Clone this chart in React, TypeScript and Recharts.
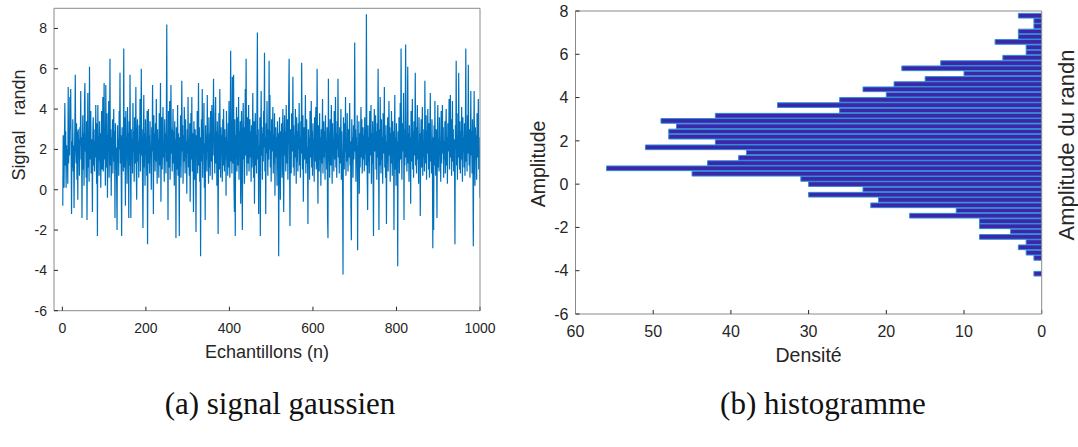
import React from 'react';
import { LineChart, Line, XAxis, YAxis, BarChart, Bar, Label } from 'recharts';

const FONT = '"Liberation Sans", Arial, Helvetica, sans-serif';
const SERIF = '"Liberation Serif", "Times New Roman", serif';
const AX = '#262626';
const BOX = '#8a8a8a';

// (a) signal gaussien : 1000 échantillons
const signal: number[] = [
  -0.8, 2.7, 1.9, 0.1, 2.6, 4.3, 1.2, 2.9, 0.1, 2.2, 1.4, 2.0, 0.3, 5.1, 1.3, 2.8, 1.7, 4.6, 3.0, 5.0,
  1.9, -1.2, 2.4, 1.1, 3.5, 0.9, 2.2, -0.9, 1.6, 3.2, 5.7, 2.0, 1.3, 3.3, 0.5, 2.9, -0.5, 3.0, 1.8, 2.5,
  0.7, 3.1, 2.2, 4.9, 1.5, 2.6, -1.4, 2.1, 3.7, 1.0, 2.8, 0.2, 4.4, 5.3, 1.9, 2.3, 0.6, 3.4, -1.5, 2.0,
  4.8, 1.1, 2.7, 0.4, 6.1, 2.2, 1.5, 3.9, 0.8, 2.5, 1.7, -1.1, 2.9, 3.6, 1.2, 2.4, 0.9, 3.0, 1.6, 4.2,
  2.1, 0.3, 3.3, -2.3, 4.2, 1.8, 2.6, 0.7, 3.4, 1.4, 2.8, 0.1, 2.0, 3.9, 1.0, 2.5, 4.6, 0.9, 2.2, 5.3,
  1.5, 3.1, 0.2, 5.2, 2.4, 1.1, 3.8, -0.4, 2.7, 1.9, 4.4, 0.6, 2.3, 6.5, 1.2, 3.0, -0.3, 2.6, 1.7, 3.5,
  0.8, 2.2, 4.0, 1.4, 2.9, -1.4, 3.3, 1.0, 2.1, 0.4, -2.0, 3.2, 1.6, 2.5, 0.7, 3.9, 2.0, 5.8, 1.3, 2.7,
  0.5, -2.3, 3.1, 1.8, 2.4, 0.9, 7.0, 1.1, 3.6, 2.2, -0.8, 3.9, 1.5, 2.6, 0.3, 4.1, 1.9, 2.8, -1.4, 3.4,
  1.2, 5.7, 2.0, -1.4, 3.0, 1.6, 2.5, 0.8, 4.3, 1.9, 2.9, 0.4, 3.6, 1.3, 2.2, 5.1, 1.0, -0.5, 2.7, 3.5,
  1.4, 2.4, 0.6, 3.2, 1.8, 4.5, 0.9, 2.6, 6.0, 1.7, 3.0, 0.5, -1.9, 2.3, 4.7, 1.1, 2.8, 0.2, 3.5, 1.9,
  2.5, 0.7, 3.9, -2.7, 2.1, 4.0, 1.3, 2.7, 0.8, 3.4, 1.6, 2.2, 0.0, 3.1, 1.9, 5.2, 2.4, -1.2, 3.7, 1.5,
  2.8, 0.9, 3.3, 1.4, 4.5, 2.0, 0.3, 3.0, 1.7, 2.5, 0.6, 3.8, 1.2, 2.9, 5.3, -0.6, 2.2, 3.6, 1.0, 2.6,
  4.1, 1.6, 2.3, 0.4, 3.5, 1.9, 2.8, 0.8, 3.2, 8.2, 1.4, 2.6, -1.5, 3.9, 2.1, 1.1, 4.4, 0.5, 2.7, 5.2,
  1.8, 3.0, 0.9, 2.4, 4.0, 1.3, 2.9, 0.2, 3.4, 1.7, 2.5, -2.4, 3.1, 1.0, 2.2, 4.2, 0.7, 2.8, 1.5, -2.3,
  2.6, 1.2, 3.7, 0.6, 2.3, 5.4, 1.9, 3.2, 0.3, 2.7, 1.4, 4.1, 2.0, 0.8, 3.5, 1.6, 2.4, -0.2, 3.0, 1.8,
  4.6, 1.1, 2.5, 0.7, 3.3, -0.6, 2.1, 3.8, 1.5, 4.6, 0.9, 2.8, 1.7, -1.1, 3.4, 2.2, 0.5, 3.0, 1.3, -2.1,
  2.7, 1.6, 3.9, 0.8, 2.4, 5.3, 1.2, 3.1, 0.4, 2.6, -3.3, 2.0, 3.5, 1.4, 5.0, 0.6, 2.9, 1.8, 4.3, 0.1,
  2.3, -1.5, 3.2, 1.5, 2.7, 0.9, 4.7, 1.9, 2.4, 0.3, 3.6, 1.1, 2.8, 0.7, 3.9, 2.1, 1.4, 4.2, 0.5, 2.6,
  3.3, 5.5, 1.7, 2.5, 0.8, 3.7, 4.6, 1.3, 2.9, 0.2, 3.4, 1.6, -2.2, 2.2, 3.8, 1.0, 5.0, 2.4, 0.6, 3.1,
  1.8, 2.7, 0.4, 3.5, 1.2, 4.0, 2.3, 0.9, 3.0, 1.5, 2.6, -0.3, 3.9, 1.9, 2.4, 0.7, 3.3, 1.1, 4.4, 2.0,
  0.6, 2.8, 6.9, 1.4, 3.2, 0.8, 5.6, 2.1, 1.3, 5.7, 0.2, -1.1, 3.5, -2.3, 2.7, 1.6, 4.1, 0.9, 2.4, 3.6,
  1.2, 4.6, 0.5, 2.9, 1.8, 3.4, -0.7, 2.2, 3.9, 1.0, -2.0, 2.6, 4.3, 1.5, 3.1, 0.3, 2.5, 5.0, 1.7, 6.5,
  2.0, 0.7, 3.6, 1.3, 2.8, 4.2, 0.9, 2.3, 3.5, 1.6, 2.9, 0.4, 3.2, 1.1, 2.6, 4.8, 1.9, 0.6, 3.4, -0.7,
  2.4, 3.8, 1.2, 2.7, 0.8, 4.5, 7.8, 1.5, 3.0, -1.2, 2.2, 1.0, 3.6, -2.3, 2.5, 4.9, 1.7, 3.1, 0.5, 2.8,
  1.4, 3.9, 2.1, 6.8, 0.9, 2.6, -1.2, 3.3, 1.8, 4.4, 2.3, 0.7, 3.0, 1.5, 6.4, 2.0, 4.7, 1.1, 2.9, 0.4,
  3.5, 1.9, 2.4, 4.1, 0.8, 2.7, 1.3, 3.8, -0.3, 2.2, 3.1, 1.6, 2.6, 0.2, 3.4, 1.0, 2.8, -3.3, 2.1, 3.6,
  1.4, -0.5, 2.9, 1.8, 3.3, 0.6, 2.5, 4.0, 1.2, -1.1, 2.3, 3.7, 1.7, 2.9, 0.9, 4.2, 2.0, 1.3, 3.5, 0.5,
  2.6, 4.6, 6.5, 1.5, -1.8, 3.0, 2.2, 0.8, 3.8, 1.9, 2.4, 5.6, 1.1, 3.2, 0.7, 2.7, 1.6, 4.0, 2.3, 0.3,
  3.6, 1.4, 2.9, 0.9, 3.3, 2.0, 4.3, 1.2, 2.6, 0.6, 3.4, 1.8, 6.3, 2.5, 1.0, 3.7, -0.6, 2.2, 3.1, 1.5,
  2.8, 4.7, 0.8, 2.4, 3.5, 1.3, 2.1, -1.7, 3.0, 1.9, 2.6, 0.5, 3.9, 1.6, 2.3, 4.4, 1.1, 2.9, 0.7, 3.3,
  1.8, 2.5, 0.4, 3.6, 1.4, 2.8, 4.1, 1.0, 2.2, 6.0, 1.7, -0.7, 3.2, 2.0, 0.9, 3.8, 1.5, 2.6, 0.2, 3.0,
  1.3, 2.7, 4.5, 0.8, 2.3, 3.4, 1.6, 2.9, 0.5, 3.7, 1.9, 2.4, 1.0, 3.1, -1.3, -2.4, 5.5, 1.4, 2.8, 0.6,
  3.5, 2.1, 1.2, 4.2, 2.6, 0.3, 3.3, 1.8, 2.5, 0.9, 3.9, 1.5, 2.2, 4.6, 1.1, 2.8, 0.6, 3.4, 2.0, 5.5,
  1.6, 2.7, 0.8, 3.1, 1.3, 2.4, 4.0, 0.5, 2.9, 1.7, 0.2, -4.2, 3.6, 2.2, 1.0, 3.3, 1.9, 4.6, 0.7, 2.5,
  1.4, 3.8, 2.1, 0.9, 3.0, 1.6, 2.7, 4.3, 1.2, 2.4, -0.9, -2.5, 3.5, 1.8, 2.6, 0.6, 3.2, 1.5, 2.3, 7.3,
  1.9, 3.0, 0.4, 2.6, 1.3, 3.7, -3.0, 2.2, 1.7, 3.4, -0.2, 2.8, 1.1, 2.5, 4.1, 1.6, 3.5, 0.8, 2.0, 3.1,
  1.5, 2.7, 0.9, 3.6, 1.8, 2.3, 1.2, 8.7, 2.9, 0.6, -1.0, 3.2, 1.4, 2.6, 0.8, 3.9, 2.1, 1.7, 4.2, 0.3,
  2.8, 1.3, 3.4, 0.7, -2.3, 2.5, 4.0, 1.9, 2.2, 3.7, 1.0, 2.9, 0.5, 3.3, 1.6, 6.0, 2.4, -2.0, 3.0, 1.2,
  4.6, 2.0, 0.8, 3.5, 1.5, 2.6, 0.3, 3.8, 1.8, 2.3, 5.1, 1.1, 2.7, 0.6, 3.2, -1.7, 2.4, 1.4, 3.6, 0.9,
  2.5, 4.4, 1.7, 3.1, 0.4, 2.8, 1.3, 3.9, 2.2, 0.7, 3.4, 1.6, 2.9, -2.0, 2.1, 4.7, 1.0, 2.6, 0.2, 3.3,
  1.8, 2.4, -3.8, 2.9, 1.4, 3.6, 0.8, 2.2, 4.3, 1.5, 7.0, 2.7, 0.5, 3.3, 1.9, 2.5, 4.8, -1.5, 3.0, 1.2,
  3.8, 7.2, 1.6, 2.4, 0.9, 3.5, 6.1, 1.3, 2.8, 0.4, 3.2, 1.8, 2.6, -0.7, 3.9, 1.4, 2.2, 4.5, 1.0, 2.9,
  0.6, 3.4, 1.7, 2.5, 5.8, 1.2, 3.1, 0.8, 2.7, 4.2, 1.5, 2.3, 0.3, 3.6, 1.9, 2.8, -1.3, 2.1, 3.5, 1.1,
  2.6, 4.1, 0.7, 3.0, 1.6, 2.4, 0.9, 5.4, 2.2, 1.3, 3.7, 0.5, 2.9, 1.8, 4.0, 2.5, 1.0, 3.3, 0.6, 2.7,
  4.8, 1.4, 2.3, 0.8, 3.5, 1.9, -2.9, 2.6, -2.0, 3.2, 1.2, 4.4, 2.0, 0.7, 3.0, 1.5, -1.4, 2.8, 4.2, 1.1,
  2.5, 0.9, 3.6, 1.7, 2.2, 0.4, 3.9, 1.3, 2.7, 4.2, 1.8, 3.1, 0.6, 2.4, 1.5, 3.4, 0.8, 2.9, 4.0, 1.2,
  2.6, 0.3, 3.3, 1.9, 2.4, 4.5, 1.0, 2.8, 4.7, 1.6, 3.5, 0.7, 2.2, 4.4, 1.4, 3.0, 0.9, 2.5, 1.8, -2.7,
  3.2, 2.0, 6.4, 1.2, 2.7, 0.5, 3.8, 1.6, 5.8, 2.3, 1.0, 3.4, 0.8, 2.9, 1.5, 4.1, 2.2, 0.4, 3.6, 1.9,
  2.6, 1.1, 3.3, 0.7, 2.8, 7.0, 1.4, 2.4, 0.9, 3.7, 1.8, 6.2, 2.5, 1.2, 3.0, 0.6, 2.2, 4.9, 1.7, 2.9,
  0.8, 3.5, 1.3, -2.8, 2.4, 4.9, 1.9, 0.2, 3.1, 1.5, 2.7, 0.5, 3.8, 1.6, 2.2, 4.5, 1.0, 2.6, 1.4, -0.4,
];
const signalXTicks = [0, 200, 400, 600, 800, 1000];
const signalYTicks = [-6, -4, -2, 0, 2, 4, 6, 8];

// (b) histogramme : centres des classes et effectifs
const binCenters = [
  7.77, 7.53, 7.29, 7.04, 6.8, 6.56, 6.31, 6.07, 5.83, 5.58,
  5.34, 5.1, 4.85, 4.61, 4.37, 4.12, 3.88, 3.64, 3.39, 3.15,
  2.91, 2.66, 2.42, 2.18, 1.93, 1.69, 1.45, 1.2, 0.96, 0.72,
  0.47, 0.23, -0.01, -0.26, -0.5, -0.74, -0.99, -1.23, -1.47, -1.72,
  -1.96, -2.2, -2.45, -2.69, -2.93, -3.18, -3.42, -3.66, -3.91, -4.15,
];
const binCounts = [
  3, 1, 1, 3, 3, 6, 2, 2, 5, 13,
  18, 10, 15, 19, 23, 20, 26, 34, 26, 42,
  49, 47, 48, 48, 42, 51, 38, 39, 43, 56,
  45, 31, 30, 23, 30, 21, 22, 11, 17, 8,
  8, 4, 8, 2, 3, 2, 1, 0, 0, 1,
];
const histXTicks = [0, 10, 20, 30, 40, 50, 60];
const histYTicks = [-6, -4, -2, 0, 2, 4, 6, 8];

const signalData = signal.map((v, i) => ({ n: i + 1, v }));
const histData = binCenters.map((c, i) => ({ c, count: binCounts[i] }));

const txt = (text: string, x: number, y: number, size: number, rotate = false) => () => (
  <text
    x={x}
    y={y}
    fill={AX}
    fontSize={size}
    fontFamily={FONT}
    textAnchor="middle"
    dominantBaseline="central"
    transform={rotate ? `rotate(-90 ${x} ${y})` : undefined}
    style={{ whiteSpace: 'pre' }}
  >
    {text}
  </text>
);

const tickLine = { stroke: AX, strokeWidth: 1 };
const axisLine = { stroke: BOX, strokeWidth: 1 };

export default function App() {
  const tickL = { fill: AX, fontSize: 14, fontFamily: FONT };
  const tickR = { fill: AX, fontSize: 16, fontFamily: FONT };
  return (
    <div style={{ position: 'absolute', left: 0, top: 0, width: 1078, height: 447, background: '#fff', overflow: 'hidden' }}>
      <div style={{ position: 'absolute', left: 0, top: 0 }}>
        <LineChart width={500} height={370} data={signalData} margin={{ top: 7.3, right: 19, bottom: 29.3, left: 0 }}>
          <XAxis xAxisId="b" dataKey="n" type="number" domain={[-20, 1000]} allowDataOverflow ticks={signalXTicks}
            height={30} tickSize={-4} tickMargin={16} tick={tickL} tickLine={tickLine} axisLine={axisLine} interval={0}>
            <Label content={txt('Echantillons (n)', 267, 352, 18)} />
          </XAxis>
          <XAxis xAxisId="t" orientation="top" type="number" domain={[-20, 1000]} allowDataOverflow ticks={signalXTicks}
            height={1} tickSize={-4} tick={false} tickLine={tickLine} axisLine={axisLine} interval={0} />
          <YAxis yAxisId="l" type="number" domain={[-6, 9]} allowDataOverflow ticks={signalYTicks} width={54}
            tickSize={-4} tickMargin={11} tick={tickL} tickLine={tickLine} axisLine={axisLine} interval={0}>
            <Label content={txt('Signal   randn', 18.5, 125, 18, true)} />
          </YAxis>
          <YAxis yAxisId="r" orientation="right" type="number" domain={[-6, 9]} allowDataOverflow ticks={signalYTicks}
            width={1} tickSize={-4} tick={false} tickLine={tickLine} axisLine={axisLine} interval={0} />
          <Line xAxisId="b" yAxisId="l" type="linear" dataKey="v" stroke="#0072BD" strokeWidth={1.2} dot={false}
            activeDot={false} isAnimationActive={false} />
        </LineChart>
      </div>
      <div style={{ position: 'absolute', left: 520, top: 0 }}>
        <BarChart width={558} height={370} data={histData} layout="vertical"
          margin={{ top: 10, right: 35.3, bottom: 26, left: 0 }}>
          <XAxis xAxisId="b" type="number" domain={[0, 60]} reversed allowDataOverflow ticks={histXTicks}
            height={30} tickSize={-4} tickMargin={15.3} tick={tickR} tickLine={tickLine} axisLine={axisLine} interval={0}>
            <Label content={txt('Densité', 288.6, 355, 19.5)} />
          </XAxis>
          <XAxis xAxisId="t" orientation="top" type="number" domain={[0, 60]} reversed allowDataOverflow ticks={histXTicks}
            height={1} tickSize={-4} tick={false} tickLine={tickLine} axisLine={axisLine} interval={0} />
          <YAxis yAxisId="l" type="number" dataKey="c" domain={[-6, 8]} reversed allowDataOverflow ticks={histYTicks} width={55.5}
            tickSize={-4} tickMargin={11} tick={tickR} tickLine={tickLine} axisLine={axisLine} interval={0}>
            <Label content={txt('Amplitude', 18, 164, 19.5, true)} />
          </YAxis>
          <YAxis yAxisId="r" orientation="right" type="number" domain={[-6, 8]} reversed allowDataOverflow ticks={histYTicks}
            width={1} tickSize={-4} tick={false} tickLine={tickLine} axisLine={axisLine} interval={0}>
            <Label content={txt('Amplitude du randn', 546, 145, 22, true)} />
          </YAxis>
          <Bar xAxisId="b" yAxisId="l" dataKey="count" barSize={5.27} fill="#3E26A8" stroke="#2B8FD9" strokeWidth={1}
            isAnimationActive={false} />
        </BarChart>
      </div>
      <div style={{ position: 'absolute', left: 0, width: 560, top: 386, textAlign: 'center', fontFamily: SERIF, fontSize: 31, color: '#111', lineHeight: '36px' }}>
        (a) signal gaussien
      </div>
      <div style={{ position: 'absolute', left: 530, width: 586, top: 386, textAlign: 'center', fontFamily: SERIF, fontSize: 31, color: '#111', lineHeight: '36px' }}>
        (b) histogramme
      </div>
    </div>
  );
}
